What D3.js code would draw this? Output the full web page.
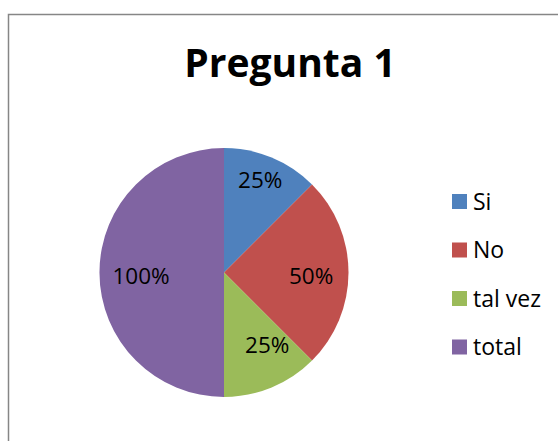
<!DOCTYPE html>
<html><head><meta charset="utf-8">
<script src="https://cdn.jsdelivr.net/npm/d3@7"></script>
<style>html,body{margin:0;padding:0;background:#fff;overflow:hidden}</style>
</head><body>
<svg id="chart" width="558" height="441"></svg>
<script>
const title = "Pregunta 1";
const categories = ["Si", "No", "tal vez", "total"];
const values = [25, 50, 25, 100];
const labels = ["25%", "50%", "25%", "100%"];
const colors = ["#4F81BD", "#C0504D", "#9BBB59", "#8064A2"];

const svg = d3.select("#chart");
const font = "'Open Sans', sans-serif";

// chart border
svg.append("rect").attr("x", 8.5).attr("y", 14.5).attr("width", 600).attr("height", 500)
  .attr("fill", "#fff").attr("stroke", "#868686").attr("stroke-width", 1.5);

svg.append("text").attr("x", 290).attr("y", 77).attr("text-anchor", "middle")
  .attr("font-family", font).attr("font-weight", "bold").attr("font-size", 39)
  .attr("fill", "#000").text(title);

const cx = 224, cy = 272.5, r = 124.5;
const data = categories.map((c, i) => ({cat: c, value: values[i], label: labels[i], color: colors[i]}));
const pie = d3.pie().value(d => d.value).sort(null);
const arc = d3.arc().innerRadius(0).outerRadius(r);
const arcs = pie(data);
const g = svg.append("g").attr("transform", `translate(${cx},${cy})`);
g.selectAll("path").data(arcs).join("path").attr("d", arc).attr("fill", d => d.data.color);

// label placement (best-fit style): radial fraction + small angular nudges
const labelFrac = [0.80, 0.70, 0.68, 0.667];
const labelAngleShift = [-0.02, 0.034, -0.143, -0.042];
g.selectAll("text.lbl").data(arcs).join("text").attr("class", "lbl")
  .attr("transform", (d, i) => {
    const a = (d.startAngle + d.endAngle) / 2 + labelAngleShift[i];
    const rr = r * labelFrac[i];
    return `translate(${rr * Math.sin(a)},${-rr * Math.cos(a)})`;
  })
  .attr("text-anchor", "middle").attr("dy", "0.36em")
  .attr("font-family", font).attr("font-size", 22.5).attr("fill", "#000")
  .text(d => d.data.label);

// legend
const ly = d3.scalePoint().domain(categories).range([201.5, 347]);
const leg = svg.append("g");
leg.selectAll("rect").data(data).join("rect")
  .attr("x", 452).attr("y", d => ly(d.cat) - 7.5).attr("width", 15).attr("height", 15)
  .attr("fill", d => d.color);
leg.selectAll("text").data(data).join("text")
  .attr("x", 473).attr("y", d => ly(d.cat)).attr("dy", "0.36em")
  .attr("font-family", font).attr("font-size", 23).attr("fill", "#000")
  .text(d => d.cat);
</script>
</body></html>
